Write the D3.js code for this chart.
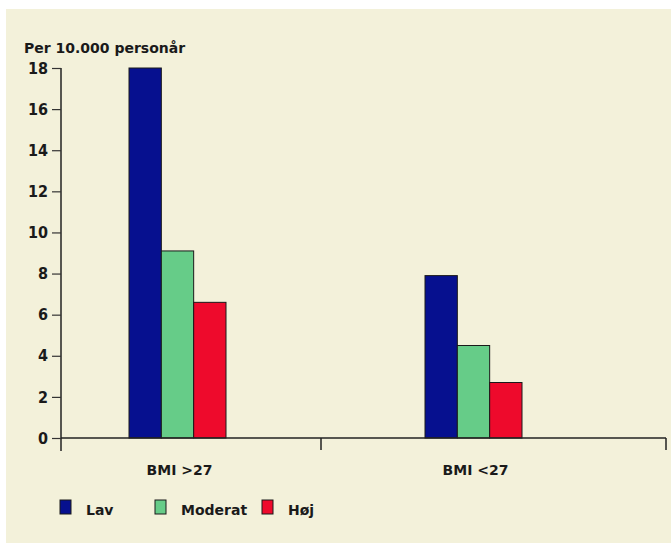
<!DOCTYPE html>
<html>
<head>
<meta charset="utf-8">
<script src="https://cdn.jsdelivr.net/npm/d3@7"></script>
<style>
  body { margin: 0; background: #fff; }
  svg text { font-family: "DejaVu Sans", sans-serif; font-weight: bold; fill: #1a1a1a; }
</style>
</head>
<body>
<div id="chart"></div>
<script>
// data
var groups = ['BMI >27', 'BMI <27'];
var series = ['Lav', 'Moderat', 'Høj'];
var lav = [18, 7.9];
var moderat = [9.1, 4.5];
var hoj = [6.6, 2.7];
var yTicks = [0, 2, 4, 6, 8, 10, 12, 14, 16, 18];
var colors = ['#06108f', '#66cc88', '#ee0a2c'];
var yTitle = 'Per 10.000 personår';

var values = [lav, moderat, hoj];

var width = 671, height = 543;
var svg = d3.select('#chart').append('svg')
    .attr('width', width)
    .attr('height', height);

// cream panel
svg.append('rect')
    .attr('x', 6).attr('y', 9)
    .attr('width', width - 6).attr('height', height - 9)
    .attr('fill', '#f3f1da');

var axisX0 = 61, axisX1 = 666, axisY = 438, divider = 321;

var y = d3.scaleLinear().domain([0, 18]).range([axisY, 68]);
var x0 = d3.scaleBand().domain(groups).range([29.5, 621.5]);
var x1 = d3.scaleBand().domain(series).range([0, 97]);

// bars
groups.forEach(function (g, gi) {
    series.forEach(function (s, si) {
        svg.append('rect')
            .attr('x', x0(g) + x0.bandwidth() / 2 - 48.5 + x1(s))
            .attr('y', y(values[si][gi]))
            .attr('width', x1.bandwidth())
            .attr('height', y(0) - y(values[si][gi]))
            .attr('fill', colors[si])
            .attr('stroke', '#1a1a1a')
            .attr('stroke-width', 1);
    });
});

// y axis
var yAxis = d3.axisLeft(y).tickValues(yTicks).tickSize(9).tickPadding(4);
var gy = svg.append('g')
    .attr('transform', 'translate(' + axisX0 + ',0)')
    .call(yAxis);
gy.select('.domain').attr('d', 'M0,' + y(18) + 'V' + (axisY + 13)).attr('stroke', '#222').attr('stroke-width', 1.5);
gy.selectAll('.tick line').attr('stroke', '#333').attr('stroke-width', 1.2);
gy.selectAll('.tick text')
    .style('font-family', '"Liberation Sans Narrow", "DejaVu Sans Condensed", sans-serif')
    .style('font-size', '16px')
    .style('font-weight', 'bold')
    .attr('fill', '#1a1a1a');

// x axis line and dividers
svg.append('line')
    .attr('x1', axisX0).attr('x2', axisX1)
    .attr('y1', axisY).attr('y2', axisY)
    .attr('stroke', '#222').attr('stroke-width', 1.5);
[divider, axisX1].forEach(function (d) {
    svg.append('line')
        .attr('x1', d).attr('x2', d)
        .attr('y1', axisY).attr('y2', axisY + 12)
        .attr('stroke', '#222').attr('stroke-width', 1.5);
});

// category labels
svg.selectAll('.cat').data(groups).enter().append('text')
    .attr('class', 'cat')
    .attr('x', function (d) { return x0(d) + x0.bandwidth() / 2 + 2; })
    .attr('y', 475)
    .attr('text-anchor', 'middle')
    .style('font-size', '14px')
    .text(function (d) { return d; });

// y title
svg.append('text')
    .attr('x', 24).attr('y', 53)
    .style('font-size', '14px')
    .text(yTitle);

// legend
var legendX = [60, 155, 262];
series.forEach(function (s, i) {
    svg.append('rect')
        .attr('x', legendX[i]).attr('y', 500)
        .attr('width', 11).attr('height', 14)
        .attr('fill', colors[i])
        .attr('stroke', '#1a1a1a');
    svg.append('text')
        .attr('x', legendX[i] + 26).attr('y', 515)
        .style('font-size', '14px')
        .text(s);
});
</script>
</body>
</html>
